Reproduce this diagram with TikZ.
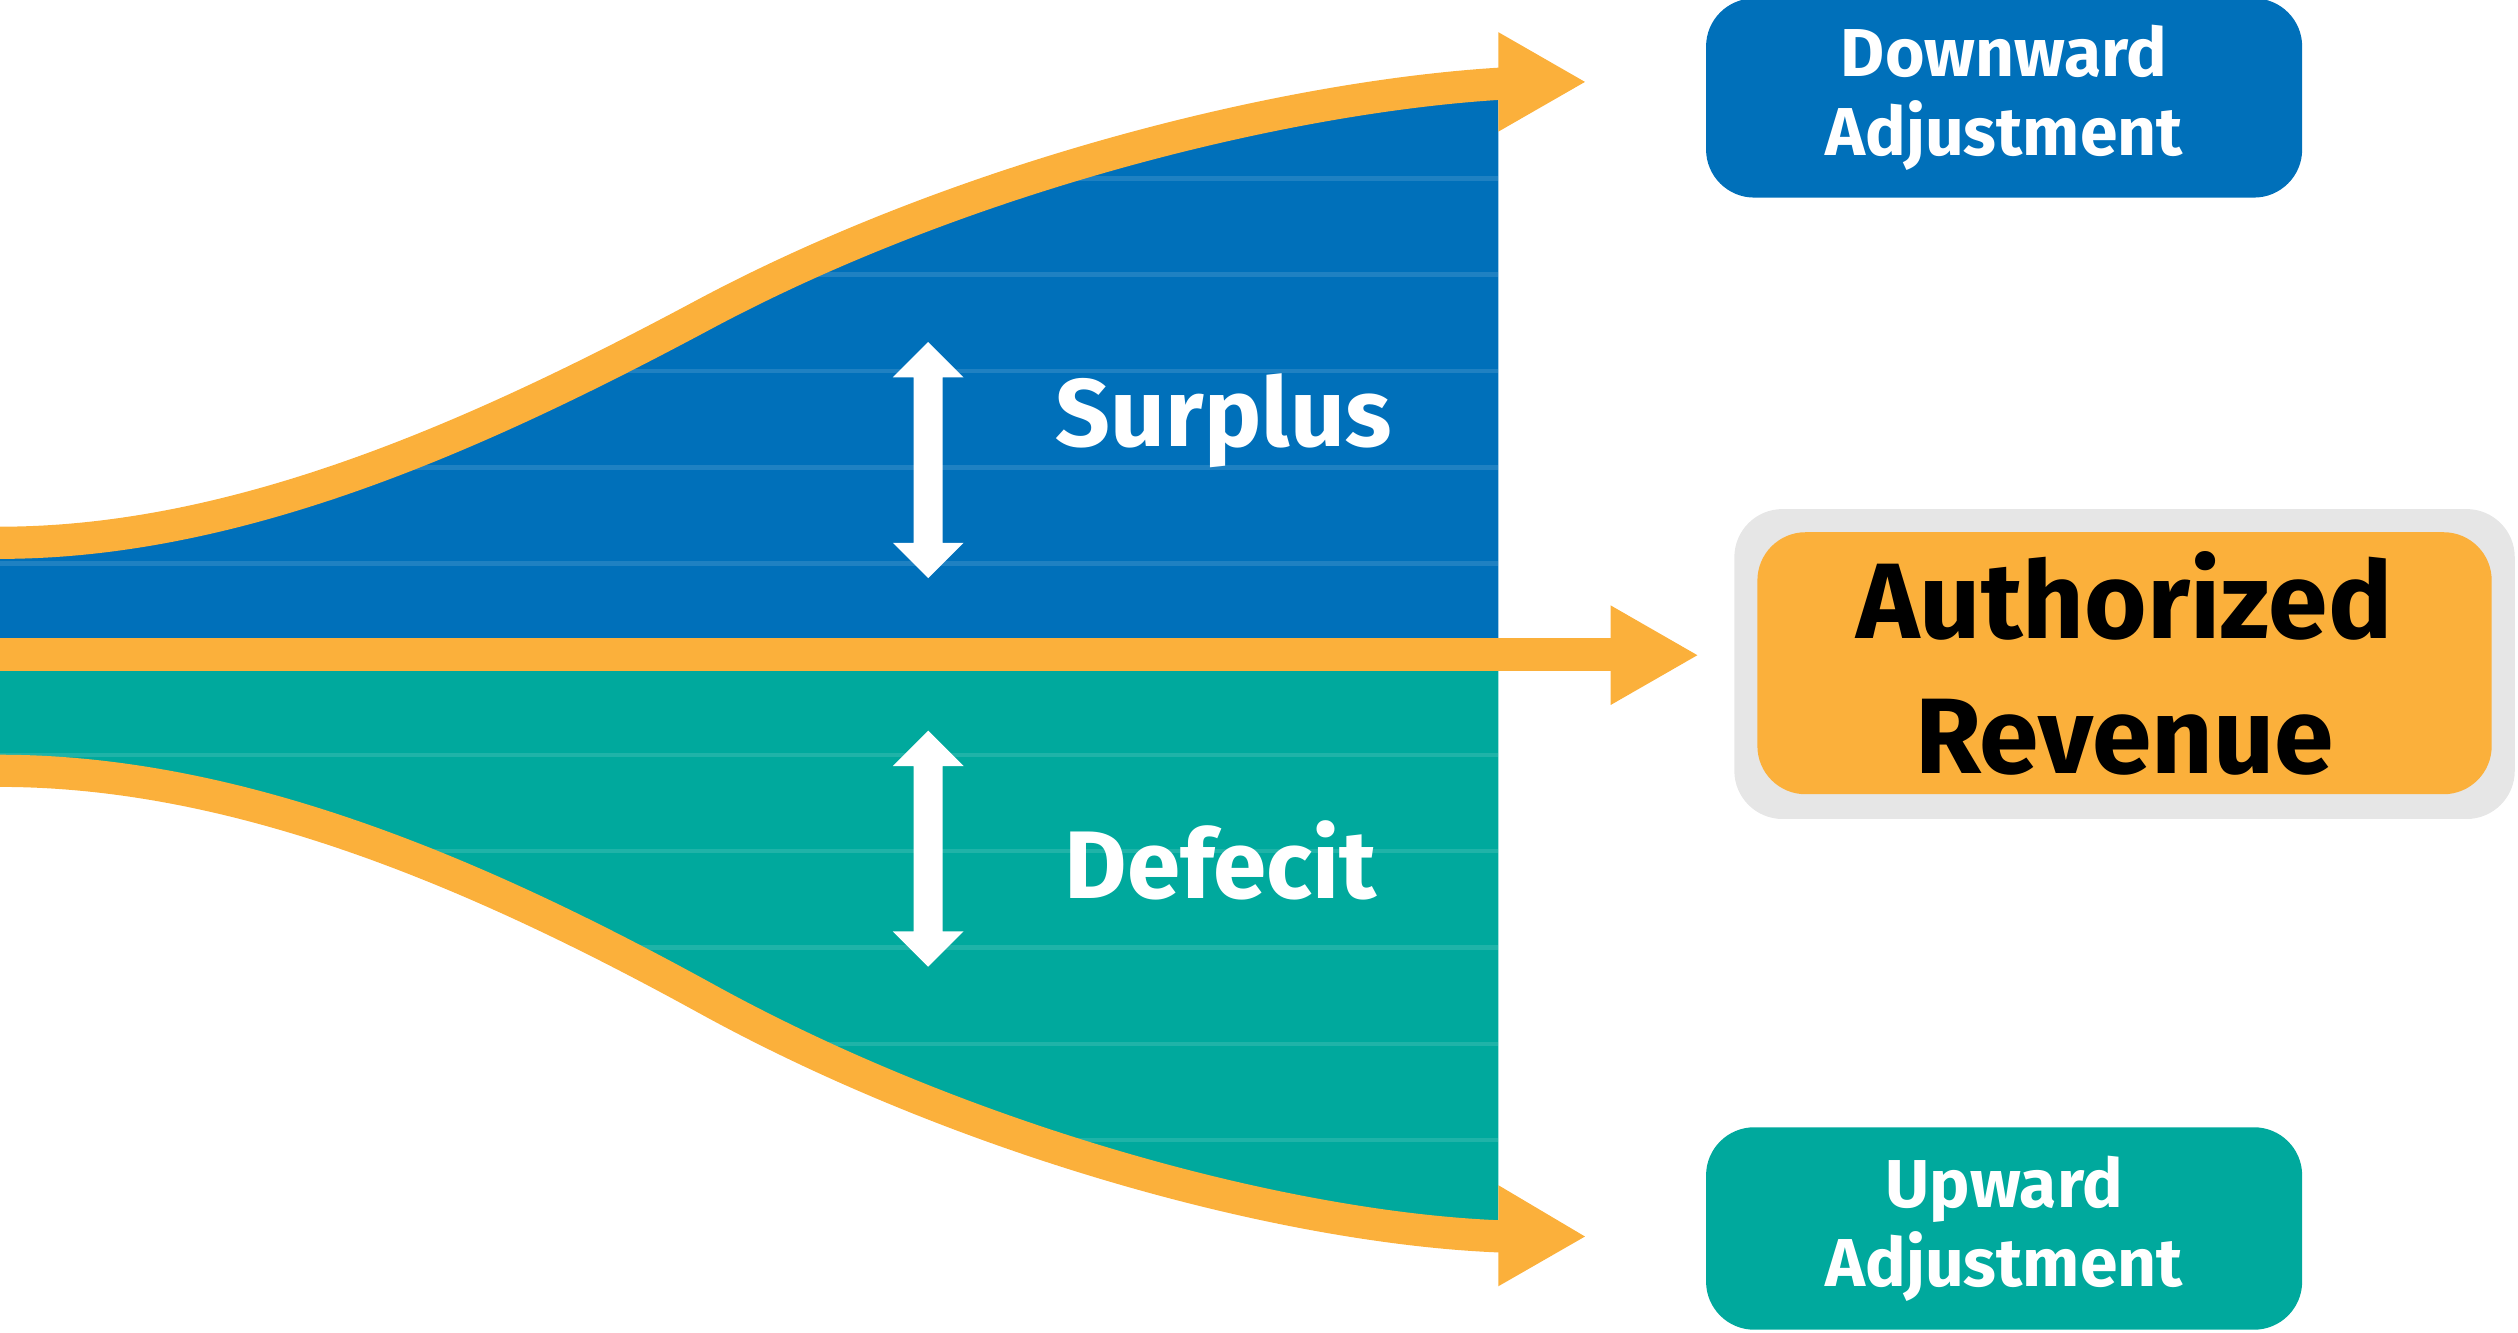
\documentclass[tikz,border=0pt]{standalone}
\usepackage{fontspec}
\setmainfont{Fira Sans}
\definecolor{cblue}{HTML}{0070BA}
\definecolor{cteal}{HTML}{00A99D}
\definecolor{corange}{HTML}{FBB03B}
\definecolor{cgray}{HTML}{E6E6E6}
\tikzset{
  band/.style={draw=corange, line width=5.7pt},
  faint/.style={draw=white, opacity=0.12, line width=0.8pt},
  box/.style={rounded corners=0.3cm, minimum width=3.71cm, minimum height=1.24cm, align=center, text=white, font=\fontsize{12}{14}\selectfont\bfseries},
  lbl/.style={text=white, font=\fontsize{17}{20}\selectfont\bfseries}
}
\begin{document}
\begin{tikzpicture}[x=0.01cm,y=-0.01cm]
\useasboundingbox (0,0) rectangle (1568,830);
% blue region
\fill[cblue] (0,338) .. controls (150,338) and (300,270) .. (440,195) .. controls (600,110) and (800,60) .. (933,52) -- (933,400) -- (0,400) -- cycle;
% teal region
\fill[cteal] (0,480) .. controls (150,480) and (300,545) .. (440,622) .. controls (600,710) and (800,765) .. (933,770) -- (933,415) -- (0,415) -- cycle;
\foreach \y in {111,171,231,291,351,470,530,590,650,710}
  \draw[faint] (0,\y) -- (933,\y);
% orange bands
\draw[band] (0,338) .. controls (150,338) and (300,270) .. (440,195) .. controls (600,110) and (800,60) .. (936,52);
\fill[corange] (933,20) -- (987,51) -- (933,82) -- cycle;
\draw[band] (0,480) .. controls (150,480) and (300,545) .. (440,622) .. controls (600,710) and (800,765) .. (936,770);
\fill[corange] (933,738) -- (987,770) -- (933,801) -- cycle;
\fill[corange] (0,397) rectangle (1005,418);
\fill[corange] (1003,377) -- (1057,408) -- (1003,439) -- cycle;
% white double arrows
\foreach \t/\b in {213/360,455/602}
  \fill[white] (578,\t) -- (600,{\t+22}) -- (587,{\t+22}) -- (587,{\b-22}) -- (600,{\b-22}) -- (578,\b)
    -- (556,{\b-22}) -- (569,{\b-22}) -- (569,{\t+22}) -- (556,{\t+22}) -- cycle;
\node[lbl] (surplus) at (762,262) {Surplus};
\node[lbl] (deficit) at (760,536) {Defecit};
% boxes
\node[box, fill=cblue] (down) at (1248,61) {Downward\\Adjustment};
\node[box, fill=cteal, minimum height=1.26cm] (up) at (1248,765) {Upward\\Adjustment};
\fill[cgray, rounded corners=0.3cm] (1080,317) rectangle (1566,510);
\node[rounded corners=0.3cm, fill=corange, minimum width=4.57cm, minimum height=1.58cm, align=center,
  font=\fontsize{19}{24}\selectfont\bfseries] (rev) at (1323,413) {Authorized\\Revenue};
\end{tikzpicture}
\end{document}
